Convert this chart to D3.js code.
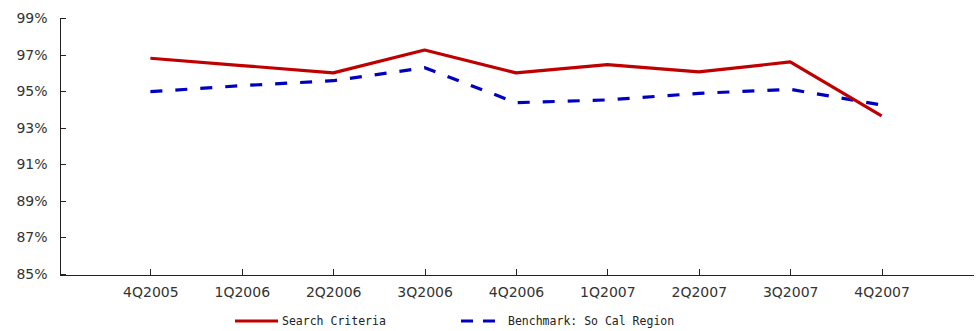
<!DOCTYPE html>
<html>
<head>
<meta charset="utf-8">
<script src="https://cdn.jsdelivr.net/npm/d3@7"></script>
<style>
  html, body { margin: 0; padding: 0; background: #fff; }
  svg { display: block; }
  .axis text { font-family: "DejaVu Sans", Verdana, sans-serif; font-size: 14px; fill: #333; }
  .axis path, .axis line { stroke: #222; stroke-width: 1; shape-rendering: crispEdges; }
  .legend text { font-family: "DejaVu Sans Mono", monospace; font-size: 11.5px; fill: #222; }
</style>
</head>
<body>
<svg id="chart" width="978" height="331"></svg>
<script>
// Quarterly categories
const quarters = ["4Q2005", "1Q2006", "2Q2006", "3Q2006", "4Q2006", "1Q2007", "2Q2007", "3Q2007", "4Q2007"];
// Series values (percent)
const searchCriteria = [96.8, 96.4, 96.0, 97.25, 96.0, 96.45, 96.05, 96.6, 93.65];
const benchmark = [94.97, 95.3, 95.57, 96.28, 94.37, 94.52, 94.88, 95.1, 94.24];
// Y axis ticks
const yTicks = [85, 87, 89, 91, 93, 95, 97, 99];
const seriesNames = ["Search Criteria", "Benchmark: So Cal Region"];

const svg = d3.select("#chart");
const plotLeft = 59, plotRight = 973, plotTop = 18, plotBottom = 274;

const x = d3.scalePoint().domain(quarters).range([plotLeft, plotRight]).padding(1);
const y = d3.scaleLinear().domain([85, 99]).range([plotBottom, plotTop]);

// Axes
svg.append("g")
  .attr("class", "axis")
  .attr("transform", `translate(${plotLeft + 0.5},0)`)
  .call(d3.axisLeft(y).tickValues(yTicks).tickFormat(d => d + "%").tickSize(-6).tickPadding(12).tickSizeOuter(0));

svg.append("g")
  .attr("class", "axis")
  .attr("transform", `translate(0,${plotBottom + 0.5})`)
  .call(d3.axisBottom(x).tickSize(-6).tickPadding(13).tickSizeOuter(0));

// Lines
const line = d3.line().x((d, i) => x(quarters[i])).y(d => y(d));

svg.append("path")
  .datum(benchmark)
  .attr("fill", "none")
  .attr("stroke", "#0000c0")
  .attr("stroke-width", 3.2)
  .attr("stroke-dasharray", "12,13")
  .attr("d", line);

svg.append("path")
  .datum(searchCriteria)
  .attr("fill", "none")
  .attr("stroke", "#c00000")
  .attr("stroke-width", 3.2)
  .attr("stroke-linejoin", "round")
  .attr("d", line);

// Legend
const legend = svg.append("g").attr("class", "legend");
const lg1 = legend.append("g");
lg1.append("line").attr("x1", 235).attr("x2", 278).attr("y1", 321).attr("y2", 321)
  .attr("stroke", "#c00000").attr("stroke-width", 3);
lg1.append("text").attr("x", 282).attr("y", 321).attr("dy", "0.35em").text(seriesNames[0]);

const lg2 = legend.append("g");
lg2.append("line").attr("x1", 461).attr("x2", 495).attr("y1", 321).attr("y2", 321)
  .attr("stroke", "#0000c0").attr("stroke-width", 3).attr("stroke-dasharray", "12,10");
lg2.append("text").attr("x", 508).attr("y", 321).attr("dy", "0.35em").text(seriesNames[1]);
</script>
</body>
</html>
